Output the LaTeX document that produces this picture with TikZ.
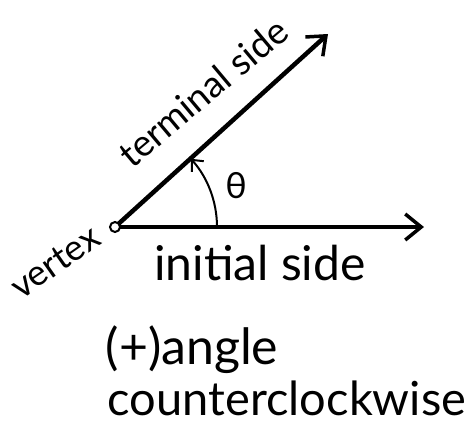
\documentclass[tikz,border=0pt]{standalone}
\usepackage{fontspec}
\setmainfont{Lato}
\usetikzlibrary{arrows.meta}
\begin{document}
\begin{tikzpicture}[x=1pt,y=-1pt,
  ray/.style={line width=4.5pt,-{Straight Barb[length=16pt,width=26pt,line width=3.5pt]}},
  anglearc/.style={line width=2pt,-{Straight Barb[length=9pt,width=16pt,line width=2pt]}},
  hand/.style={inner sep=0pt,font=\fontsize{#1}{#1}\selectfont}]
\useasboundingbox (0,0) rectangle (474,429);
\coordinate (V) at (115,227);
\coordinate (I) at (424,227);
\coordinate (T) at (328,34);
\draw[ray] (V) -- (I);
\draw[ray] (V) -- (T);
\node[circle,draw,line width=2pt,fill=white,minimum size=10pt,inner sep=0pt] (vx) at (V) {};
\draw[anglearc] ([shift={(0:102)}]V) arc[start angle=0,end angle=-42,radius=102];
\node[hand=37,rotate=40] (term) at (203,92) {terminal side};
\node[hand=36] (theta) at (236,186) {θ};
\node[hand=36,rotate=35] (vert) at (55,262) {vertex};
\node[hand=48] (init) at (260,263) {initial side};
\node[hand=50] (plus) at (192,350) {(+)angle};
\node[hand=47] (ccw) at (287,398) {counterclockwise};
\end{tikzpicture}
\end{document}
